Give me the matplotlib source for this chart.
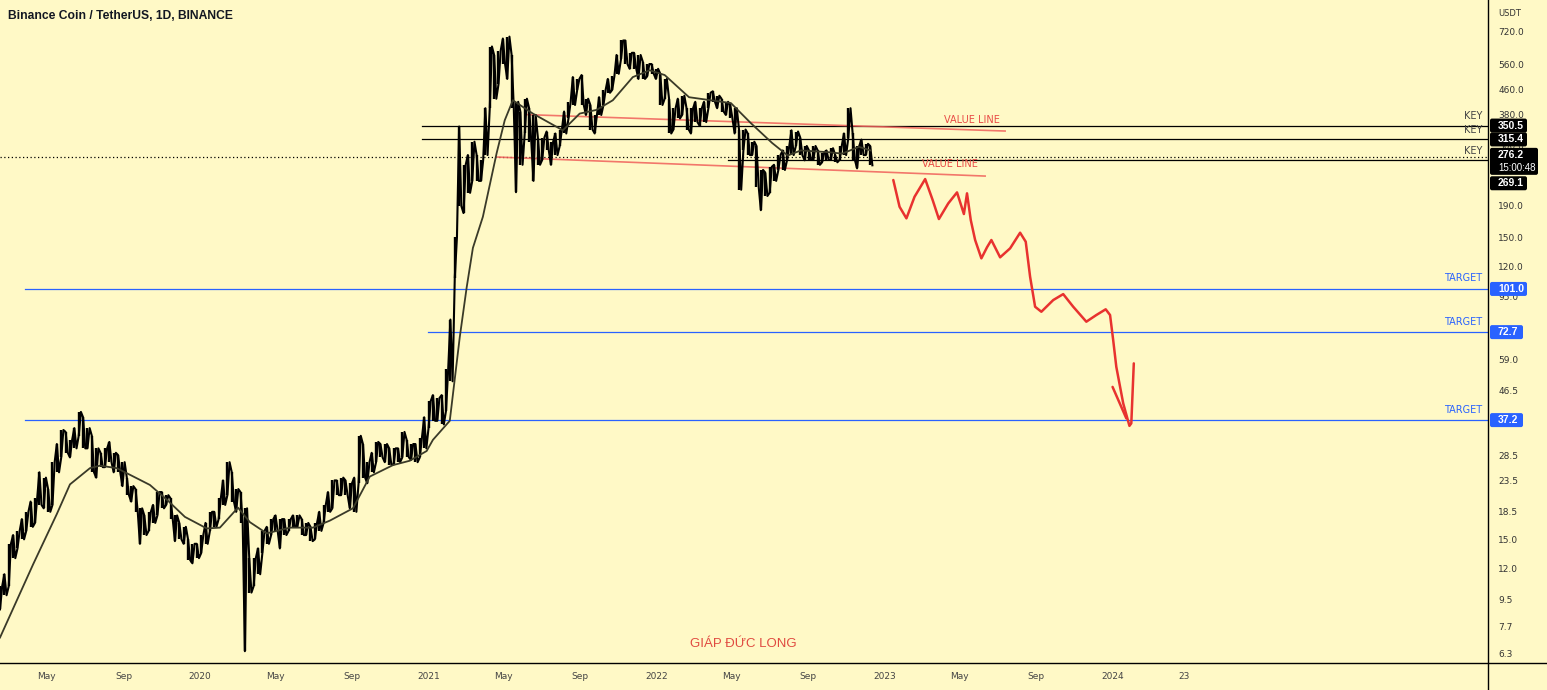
import matplotlib
matplotlib.use('Agg')
import matplotlib.pyplot as plt
from matplotlib.lines import Line2D
from matplotlib.patches import FancyBboxPatch
from matplotlib.transforms import IdentityTransform, blended_transform_factory
import numpy as np
import pandas as pd

# ---- weekly price ranges (BNB/USDT), weeks starting 2019-02-15 ----
low_2019 = [8.8, 9.8, 10.5, 13, 14, 15, 16, 16.5, 17, 19.5, 19, 18.5, 19.5, 25, 28, 29, 28, 30, 33, 30,
            30, 25, 24, 26, 26, 27, 25, 25, 22.5, 21, 20, 18.5, 14.5, 15.5, 16, 17, 18, 19, 19.5, 17.5,
            14.8, 15, 14.5, 12.8, 12.5, 13]
high_2019 = [10.5, 11.5, 14.5, 15.5, 16, 17.5, 18.5, 20, 20.5, 25, 24, 22, 27, 31, 34.5, 34, 32, 35, 39.6, 38,
             35, 33, 30, 29, 30, 31.5, 29, 28.5, 27, 24, 22.5, 22, 19, 18, 18.5, 19.5, 21.5, 21.5, 21, 20.5,
             18, 17, 16.5, 15, 14.5, 14.5]
low_2020 = [13.5, 14.5, 16, 16.5, 17.5, 19.5, 21, 20, 18.5, 17, 6.4, 10, 10.5, 11.5, 13.5, 14.5, 15.5, 16, 14, 15.5,
            16, 16.5, 16.5, 15.5, 15.5, 14.8, 15, 16, 17, 18.5, 19, 21, 21, 21, 19, 18.5, 23, 24, 23, 25,
            27, 28, 27, 26.5, 26.5, 27, 28, 28, 27.5, 27, 28, 30]
high_2020 = [15.5, 17, 18.5, 18.5, 20.5, 23.5, 27, 25, 22, 21.5, 19, 13, 13, 14, 16, 16.5, 17.5, 18, 17.5, 17.5,
             17.5, 18, 18, 17.5, 17, 16.5, 17, 18.5, 19.5, 21.5, 23.5, 23.5, 24, 23.5, 23, 24, 33, 31, 27, 29,
             31.5, 31, 31, 30, 30, 30, 34, 32, 31, 31, 32.5, 38]
low_2021 = [35, 37, 37, 36, 40, 50, 110, 190, 180, 210, 230, 230, 230, 280, 400, 430, 480, 560, 500, 400,
            211, 260, 330, 310, 230, 260, 270, 290, 260, 280, 300, 330, 370, 410, 460, 410, 380, 340, 330, 380,
            410, 450, 460, 520, 580, 560, 540, 540, 500, 500, 510, 520, 500]
high_2021 = [43, 45, 44, 45, 55, 80, 150, 348, 260, 280, 310, 280, 270, 400, 640, 600, 620, 680, 690, 600,
             420, 390, 430, 400, 380, 320, 320, 335, 310, 330, 340, 390, 420, 507, 500, 515, 430, 410, 380, 435,
             460, 500, 510, 600, 670, 670, 610, 610, 600, 570, 560, 560, 540]
low_2022 = [410, 430, 330, 340, 370, 380, 340, 330, 360, 350, 360, 400, 420, 400, 390, 380, 370, 330, 215, 290,
            280, 280, 220, 184, 205, 210, 230, 250, 250, 270, 280, 300, 280, 269, 270, 270, 260, 265, 270, 270,
            265, 270, 280, 320, 270, 253, 280, 280, 259]
high_2022 = [520, 500, 430, 400, 430, 440, 400, 400, 420, 400, 420, 450, 455, 440, 430, 420, 410, 400, 340, 340,
             330, 310, 300, 250, 245, 256, 260, 280, 290, 300, 338, 335, 320, 300, 290, 300, 290, 285, 290, 295,
             280, 300, 330, 400, 330, 300, 315, 305, 300]

wk_low = low_2019 + low_2020 + low_2021 + low_2022
wk_high = high_2019 + high_2020 + high_2021 + high_2022
assert len(wk_low) == len(wk_high)

# ---- moving average ----
ma_dates = ['2019-02-15', '2019-04-09', '2019-05-17', '2019-06-07', '2019-07-09', '2019-07-25', '2019-08-21',
            '2019-09-27', '2019-10-13', '2019-11-09', '2019-12-08', '2020-01-12', '2020-02-02', '2020-03-02',
            '2020-03-21', '2020-04-17', '2020-05-24', '2020-06-30', '2020-07-27', '2020-09-02', '2020-09-29',
            '2020-11-05', '2020-12-02', '2020-12-29', '2021-01-08', '2021-02-04', '2021-02-20', '2021-03-03',
            '2021-03-13', '2021-03-29', '2021-04-20', '2021-05-03', '2021-05-16', '2021-06-17', '2021-08-04',
            '2021-08-31', '2021-09-27', '2021-10-23', '2021-11-24', '2021-12-21', '2022-01-14', '2022-02-22',
            '2022-04-30', '2022-06-01', '2022-07-05', '2022-07-30', '2022-08-20', '2022-10-05', '2022-10-25',
            '2022-11-21', '2022-12-10']
ma_values = [7.1, 12.4, 18.2, 22.8, 25.8, 26.3, 25.8, 23.6, 22.7, 20.3, 17.8, 16.3, 16.4, 19.1,
             17.1, 15.7, 16.4, 16.4, 17.3, 19.0, 24.2, 26.4, 27.3, 29.4, 32.0, 37, 70, 102,
             138, 175, 284, 365, 425, 384, 338, 384, 395, 425, 507, 534, 515, 435,
             416, 357, 307, 279, 290, 286, 283, 298, 290]

# ---- hand-drawn projection ----
proj_dates = ['2023-01-15', '2023-01-25', '2023-02-05', '2023-02-18', '2023-03-07', '2023-03-19', '2023-03-29',
              '2023-04-13', '2023-04-27', '2023-05-08', '2023-05-13', '2023-05-19', '2023-05-26', '2023-06-05',
              '2023-06-14', '2023-06-21', '2023-07-05', '2023-07-21', '2023-08-06', '2023-08-15', '2023-08-22',
              '2023-08-30', '2023-09-09', '2023-09-28', '2023-10-14', '2023-10-30', '2023-11-20', '2023-12-06',
              '2023-12-21', '2023-12-28', '2024-01-02', '2024-01-07', '2024-01-18', '2024-01-28', '2024-01-31',
              '2024-02-04']
proj_prices = [231.5, 188.9, 172.9, 203.8, 233.2, 198.8, 172.0, 193.8, 210.7, 178.7, 209.2, 170.7, 146.6, 127.5,
               138.7, 146.6, 128.5, 137.6, 155.0, 144.7, 110.8, 88.2, 84.9, 92.8, 97.1, 88.2, 78.7, 82.8,
               86.5, 82.8, 68.4, 55.8, 42.3, 35.6, 36.3, 57.3]
barb_dates = ['2024-01-01', '2024-01-23']
barb_prices = [47.9, 37.7]

# ---- drawn levels ----
key_levels = [350.5, 315.4]
key_start = '2020-12-21'
low_key = 269.1
low_key_start = '2022-04-25'
last_price = 276.2
target_levels = [101.0, 72.7, 37.2]
target_starts = ['2019-03-27', '2020-12-31', '2019-03-27']
value_upper = (['2021-06-07', '2023-07-13'], [381.0, 336.2])
value_lower = (['2021-04-20', '2023-06-11'], [275.8, 238.6])

# tick values whose labels are not covered by the price tags
y_ticks = [6.3, 7.7, 9.5, 12, 15, 18.5, 23.5, 28.5, 46.5, 59, 95, 120, 150, 190, 300, 380, 460, 560, 720]
x_tick_dates = ['2019-05-01', '2019-09-01', '2020-01-01', '2020-05-01', '2020-09-01', '2021-01-01', '2021-05-01',
                '2021-09-01', '2022-01-01', '2022-05-01', '2022-09-01', '2023-01-01', '2023-05-01', '2023-09-01',
                '2024-01-01', '2024-04-24']
x_tick_labels = ['May', 'Sep', '2020', 'May', 'Sep', '2021', 'May', 'Sep', '2022', 'May', 'Sep', '2023', 'May',
                 'Sep', '2024', '23']

BG = '#FFF9C6'
BLUE = '#2962FF'
RED = '#E8322F'
W, H = 1547, 690
AX_R, AX_B = 1488, 663

fig = plt.figure(figsize=(W / 100, H / 100), dpi=100, facecolor=BG)
ax = fig.add_axes([0, (H - AX_B) / H, AX_R / W, AX_B / H], facecolor=BG)
ax.set_yscale('log')
ax.set_ylim(5.85, 912)
ax.set_xlim(pd.Timestamp('2019-02-15'), pd.Timestamp('2025-08-24'))
for s in ax.spines.values():
    s.set_visible(False)

# candles: weekly ranges drawn as wicks plus a saw-tooth between lows and highs
wk_dates = pd.date_range('2019-02-15', periods=len(wk_low), freq='7D')
ax.vlines(wk_dates, wk_low, wk_high, color='black', lw=1.7, zorder=3)
saw_x, saw_y = [], []
for i, (d, lo, hi) in enumerate(zip(wk_dates, wk_low, wk_high)):
    a, b = (lo, hi) if i % 2 == 0 else (hi, lo)
    saw_x += [d, d + pd.Timedelta(days=3.5)]
    saw_y += [a, b]
ax.plot(saw_x, saw_y, color='black', lw=1.5, zorder=3)
ax.plot(pd.to_datetime(ma_dates), ma_values, color='#3a3a28', lw=1.3, zorder=4)

# levels
xmax = pd.Timestamp('2025-08-24')
for lv in key_levels:
    ax.plot([pd.Timestamp(key_start), xmax], [lv, lv], color='black', lw=0.9, zorder=2)
ax.plot([pd.Timestamp(low_key_start), xmax], [low_key, low_key], color='black', lw=0.9, zorder=2)
ax.axhline(last_price, color='black', lw=0.9, ls=(0, (1, 2)), zorder=2)
for lv, st in zip(target_levels, target_starts):
    ax.plot([pd.Timestamp(st), xmax], [lv, lv], color=BLUE, lw=0.9, zorder=2)
for d, p in (value_upper, value_lower):
    ax.plot(pd.to_datetime(d), p, color='#F0605A', lw=1.2, alpha=0.85, zorder=2)

ax.plot(pd.to_datetime(proj_dates), proj_prices, color=RED, lw=1.8, solid_joinstyle='round',
        solid_capstyle='round', zorder=5)
ax.plot(pd.to_datetime(barb_dates), barb_prices, color=RED, lw=1.8, solid_capstyle='round', zorder=5)

# line labels
tr = blended_transform_factory(ax.transAxes, ax.transData)
for lv in [350.5, 315.4, 269.1]:
    ax.annotate('KEY', xy=(1, lv), xycoords=tr, xytext=(-4, 3), textcoords='offset points',
                ha='right', va='bottom', fontsize=7, color='#444444')
for lv in target_levels:
    ax.annotate('TARGET', xy=(1, lv), xycoords=tr, xytext=(-4, 4), textcoords='offset points',
                ha='right', va='bottom', fontsize=7, color=BLUE)
ax.text(pd.Timestamp('2023-05-21'), 365.6, 'VALUE LINE', color='#E84A45', fontsize=7, ha='center', va='center')
ax.text(pd.Timestamp('2023-04-15'), 261.5, 'VALUE LINE', color='#E84A45', fontsize=7, ha='center', va='center')
ax.text(0.4993, 0.028, 'GIÁP ĐỨC LONG', transform=ax.transAxes, color='#E04A40', fontsize=9.5,
        family='Liberation Sans', ha='center', va='center')

# ticks
ax.yaxis.tick_right()
ax.set_yticks(y_ticks)
ax.set_yticklabels(['%.1f' % v for v in y_ticks])
ax.yaxis.set_minor_locator(matplotlib.ticker.NullLocator())
ax.tick_params(axis='y', length=0, pad=7.5, labelsize=6.5, labelcolor='#333333')
ax.set_xticks(pd.to_datetime(x_tick_dates))
ax.set_xticklabels(x_tick_labels)
ax.tick_params(axis='x', length=0, pad=6.5, labelsize=6.5, labelcolor='#444444')

fig.text(8 / W, 1 - 16 / H, 'Binance Coin / TetherUS, 1D, BINANCE', fontsize=8.7, fontweight='bold',
         family='Liberation Sans', color='#131722', va='center', ha='left')
fig.text(1498 / W, 1 - 13 / H, 'USDT', fontsize=6, color='#333333', va='center')

# frame lines
fig.add_artist(Line2D([0, 1], [(H - AX_B) / H] * 2, color='black', lw=1.0, transform=fig.transFigure))
fig.add_artist(Line2D([AX_R / W] * 2, [0, 1], color='black', lw=1.0, transform=fig.transFigure))


# price tags on the axis
def price_tag(price, label, color, dy=0, h=14, w=37, sub=None):
    yd = tr.transform((1, price))[1] - dy
    extra = 0 if sub is None else 13
    fig.add_artist(FancyBboxPatch((AX_R + 2, yd - h / 2 - extra), w + (11 if sub else 0), h + extra,
                                  boxstyle='round,pad=0,rounding_size=2', transform=IdentityTransform(),
                                  fc=color, ec='none'))
    fig.text(AX_R + 10, yd, label, transform=IdentityTransform(), fontsize=7.5, fontweight='bold',
             family='Liberation Sans', color='white', va='center', ha='left')
    if sub:
        fig.text(AX_R + 10, yd - 13, sub, transform=IdentityTransform(), fontsize=7,
                 family='Liberation Sans', color='white', va='center', ha='left')


price_tag(350.5, '350.5', 'black')
price_tag(315.4, '315.4', 'black')
price_tag(276.2, '276.2', 'black', dy=-2, sub='15:00:48')
price_tag(269.1, '269.1', 'black', dy=23)
price_tag(101.0, '101.0', BLUE)
price_tag(72.7, '72.7', BLUE, w=33)
price_tag(37.2, '37.2', BLUE, w=33)

fig.savefig('out.png', dpi=100, facecolor=BG)
